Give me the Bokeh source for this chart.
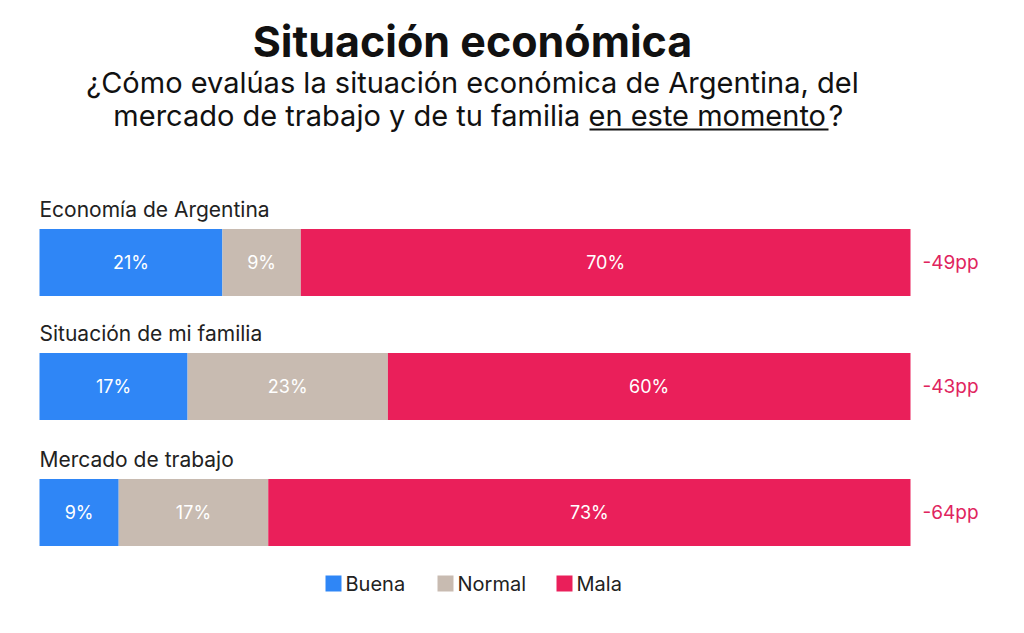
from bokeh.plotting import figure
from bokeh.models import Range1d
from bokeh.core.properties import value
from bokeh.embed import file_html
from bokeh.resources import INLINE

categories = ["Economía de Argentina", "Situación de mi familia", "Mercado de trabajo"]
buena = [21, 17, 9]
normal = [9, 23, 17]
mala = [70, 60, 73]
diff = ["-49pp", "-43pp", "-64pp"]
series = ["Buena", "Normal", "Mala"]
colors = ["#2F86F6", "#C8BBB1", "#EA1F5A"]

W, H = 1008, 617
X0, X1 = 39, 910
scale = (X1 - X0) / 100.0
p = figure(width=W, height=H, output_backend="svg", toolbar_location=None,
           x_range=Range1d(-X0 / scale, (W - X0) / scale), y_range=Range1d(H, 0),
           min_border=0)
p.axis.visible = False
p.grid.visible = False
p.outline_line_color = None

font = value("Inter")
rows = [262, 386, 512]
bh = 67


def px(x):
    return (x - X0) / scale


for i, cat in enumerate(categories):
    vals = [buena[i], normal[i], mala[i]]
    tot = sum(vals)
    left = 0
    for v, c in zip(vals, colors):
        w = v / tot * 100
        p.hbar(y=rows[i], left=left, right=left + w, height=bh, color=c, line_color=None)
        p.text(x=[left + w / 2], y=[rows[i]], text=[f"{v}%"], text_color="white",
               text_font=font, text_font_size="18px", text_align="center", text_baseline="middle")
        left += w
    p.text(x=[0], y=[rows[i] - bh / 2 - 7], text=[cat], text_font=font, text_font_size="21px",
           text_color="#222222", text_baseline="bottom")
    p.text(x=[px(922)], y=[rows[i]], text=[diff[i]], text_font=font, text_font_size="19px",
           text_color="#E0245E", text_baseline="middle")

cx = px(472)
p.text(x=[cx], y=[40], text=["Situación económica"], text_font=font, text_font_size="43px",
       text_font_style="bold", text_align="center", text_baseline="middle", text_color="#111111")
p.text(x=[cx], y=[82], text=["¿Cómo evalúas la situación económica de Argentina, del"],
       text_font=font, text_font_size="29px", text_align="center", text_baseline="middle", text_color="#111111")
p.text(x=[px(588)], y=[115], text=["mercado de trabajo y de tu familia "],
       text_font=font, text_font_size="29px", text_align="right", text_baseline="middle", text_color="#111111")
p.text(x=[px(588)], y=[115], text=["en este momento"],
       text_font=font, text_font_size="29px", text_align="left", text_baseline="middle", text_color="#111111")
p.text(x=[px(828)], y=[115], text=["?"],
       text_font=font, text_font_size="29px", text_align="left", text_baseline="middle", text_color="#111111")
p.segment(x0=[px(589)], x1=[px(828)], y0=[129], y1=[129], line_color="#111111", line_width=2)

lx = [333, 445, 564]
for name, c, x in zip(series, colors, lx):
    p.rect(x=[px(x)], y=[583], width=16 / scale, height=16, color=c, line_color=None)
    p.text(x=[px(x + 12)], y=[583], text=[name], text_font=font, text_font_size="20px",
           text_baseline="middle", text_color="#222222")

open("out.html", "w").write(file_html(p, INLINE))
